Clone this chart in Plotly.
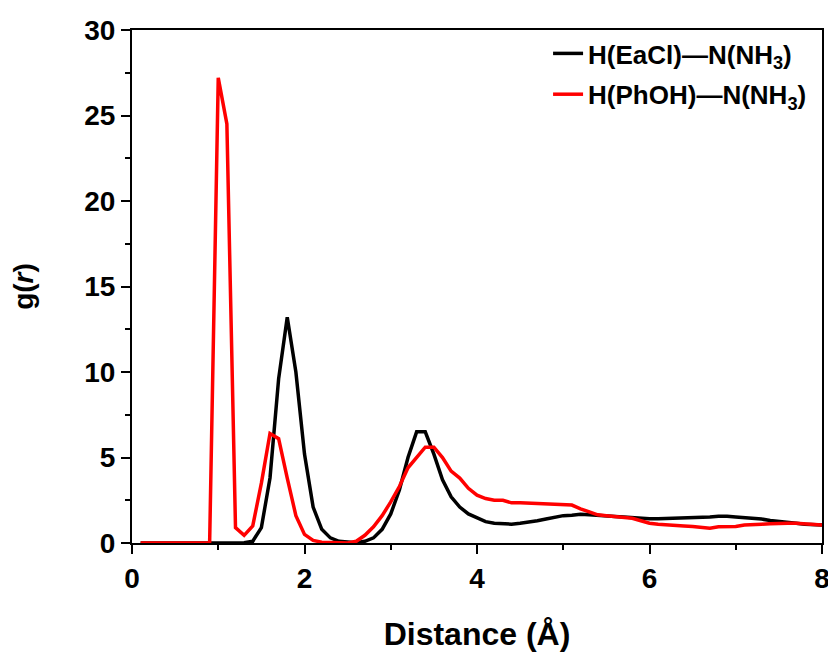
import plotly.graph_objects as go

# distance grid (Angstrom)
distance = [0.1, 0.2, 0.3, 0.4, 0.5, 0.6, 0.7, 0.8, 0.9, 1.0,
            1.1, 1.2, 1.3, 1.4, 1.5, 1.6, 1.7, 1.8, 1.9, 2.0,
            2.1, 2.2, 2.3, 2.4, 2.5, 2.6, 2.7, 2.8, 2.9, 3.0,
            3.1, 3.2, 3.3, 3.4, 3.5, 3.6, 3.7, 3.8, 3.9, 4.0,
            4.1, 4.2, 4.3, 4.4, 4.5, 4.6, 4.7, 4.8, 4.9, 5.0,
            5.1, 5.2, 5.3, 5.4, 5.5, 5.6, 5.7, 5.8, 5.9, 6.0,
            6.1, 6.2, 6.3, 6.4, 6.5, 6.6, 6.7, 6.8, 6.9, 7.0,
            7.1, 7.2, 7.3, 7.4, 7.5, 7.6, 7.7, 7.8, 7.9, 8.0]

# H(EaCl)-N(NH3)
g_eacl = [0, 0, 0, 0, 0, 0, 0, 0, 0, 0,
          0, 0, 0.02, 0.1, 0.9, 3.8, 9.6, 13.2, 10.0, 5.2,
          2.1, 0.8, 0.3, 0.1, 0.05, 0.02, 0.1, 0.3, 0.8, 1.7,
          3.1, 5.0, 6.5, 6.5, 5.2, 3.7, 2.7, 2.1, 1.7, 1.45,
          1.25, 1.15, 1.1, 1.1, 1.15, 1.2, 1.3, 1.4, 1.5, 1.6,
          1.62, 1.68, 1.65, 1.6, 1.58, 1.55, 1.52, 1.48, 1.45, 1.42,
          1.42, 1.43, 1.44, 1.45, 1.46, 1.48, 1.52, 1.56, 1.57, 1.52,
          1.48, 1.46, 1.4, 1.32, 1.25, 1.2, 1.15, 1.1, 1.08, 1.05]

# H(PhOH)-N(NH3)
g_phoh = [0, 0, 0, 0, 0, 0, 0, 0, 0, 27.2,
          24.5, 0.9, 0.45, 1.0, 3.5, 6.4, 6.1, 3.8, 1.6, 0.5,
          0.15, 0.05, 0.02, 0, 0, 0.1, 0.45, 0.95, 1.6, 2.4,
          3.3, 4.4, 5.0, 5.6, 5.6, 5.0, 4.2, 3.8, 3.2, 2.8,
          2.6, 2.5, 2.5, 2.35, 2.35, 2.32, 2.3, 2.28, 2.25, 2.2,
          2.22, 2.0, 1.8, 1.65, 1.6, 1.55, 1.52, 1.45, 1.3, 1.16,
          1.1, 1.05, 1.02, 1.0, 0.97, 0.92, 0.86, 0.95, 0.95, 0.96,
          1.05, 1.05, 1.1, 1.12, 1.15, 1.15, 1.15, 1.12, 1.1, 1.05]

FONT = "Arial, Liberation Sans, sans-serif"

fig = go.Figure()
fig.add_trace(go.Scatter(x=distance, y=g_eacl, mode="lines",
                         name="<b>H(EaCl)—N(NH<sub>3</sub>)</b>", legendgroup="a",
                         line=dict(color="black", width=3.5)))
fig.add_trace(go.Scatter(x=distance, y=g_phoh, mode="lines",
                         name="<b>H(PhOH)—N(NH<sub>3</sub>)</b>", legendgroup="b",
                         line=dict(color="#ff0000", width=3.5)))

tick_font = dict(family=FONT, size=28, color="black")

# the page body adds 8px margin, so margins are offset accordingly
fig.update_layout(
    width=836, height=654,
    margin=dict(l=124, r=22, t=22, b=119),
    plot_bgcolor="white", paper_bgcolor="white",
    font=dict(family=FONT, color="black"),
    showlegend=True,
    legend=dict(x=0.603, y=1.0, xanchor="left", yanchor="top",
                bgcolor="rgba(0,0,0,0)", borderwidth=0,
                font=dict(family=FONT, size=26, color="black"),
                tracegroupgap=4),
    xaxis=dict(range=[0, 8], dtick=2, tick0=0, automargin=False,
               showline=True, linecolor="black", linewidth=2, mirror=True,
               ticks="outside", ticklen=9, tickwidth=2, tickcolor="black",
               minor=dict(dtick=1, ticks="outside", ticklen=5, tickwidth=2, tickcolor="black"),
               showgrid=False, zeroline=False,
               tickfont=tick_font, tickprefix="<b>", ticksuffix="</b>",
               title=dict(text="<b>Distance (Å)</b>", standoff=30,
                          font=dict(family=FONT, size=32, color="black"))),
    yaxis=dict(range=[0, 30], dtick=5, tick0=0, automargin=False,
               showline=True, linecolor="black", linewidth=2, mirror=True,
               ticks="outside", ticklen=9, tickwidth=2, tickcolor="black",
               minor=dict(dtick=2.5, ticks="outside", ticklen=5, tickwidth=2, tickcolor="black"),
               showgrid=False, zeroline=False,
               tickfont=tick_font, tickprefix="<b>", ticksuffix="</b>",
               title=dict(text="<b>g(<i>r</i>)</b>", standoff=45,
                          font=dict(family=FONT, size=28, color="black"))),
)

fig.write_html("out.html")
